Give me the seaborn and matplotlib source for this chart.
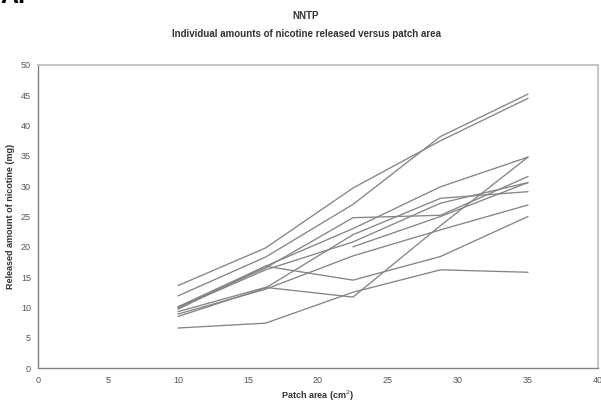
import numpy as np
import pandas as pd
import matplotlib
matplotlib.use("Agg")
import matplotlib.pyplot as plt
import seaborn as sns

# Patch areas (cm^2)
patch_area = [10, 16.25, 22.5, 28.75, 35]

# Individual released amounts of nicotine (mg), one list per subject
s1 = [13.6, 19.8, 29.7, 37.5, 44.5]
s2 = [11.9, 18.3, 27.0, 38.2, 45.2]
s3 = [10.1, 16.8, 23.0, 29.9, 34.8]
s4 = [10.0, 16.5, 24.8, 25.2, 31.6]
s5 = [9.9, 16.2, 20.8, 27.2, 30.6]
s6 = [9.7, 16.8, 14.5, 18.4, 25.0]
s7 = [9.3, 13.3, 11.7, 23.5, 34.8]
s8 = [8.9, 13.0, 18.5, 22.8, 26.9]
s9 = [8.5, 13.2, 22.0, 28.0, 29.1]
s10 = [6.6, 7.4, 12.5, 16.2, 15.8]
s11 = [np.nan, np.nan, 20.0, 25.0, 30.6]

series = [s1, s2, s3, s4, s5, s6, s7, s8, s9, s10, s11]

x_ticks = [0, 5, 10, 15, 20, 25, 30, 35, 40]
y_ticks = [0, 5, 10, 15, 20, 25, 30, 35, 40, 45, 50]

rows = []
for i, s in enumerate(series):
    for xa, v in zip(patch_area, s):
        rows.append({"subject": f"S{i+1}", "area": xa, "amount": v})
df = pd.DataFrame(rows).dropna()

sns.set_style("white")
plt.rcParams['font.family'] = ['Liberation Sans', 'DejaVu Sans']

fig = plt.figure(figsize=(6.01, 4.08), dpi=100)
ax = fig.add_axes([38/601, 1-368/408, (598-38)/601, (368-65)/408])

sns.lineplot(data=df, x="area", y="amount", units="subject", estimator=None,
             color="#858585", linewidth=0.95, ax=ax, legend=False)

ax.set_xlim(0, 40)
ax.set_ylim(0, 50)
ax.set_xticks(x_ticks)
ax.set_yticks(y_ticks)
ax.tick_params(axis='both', which='major', direction='out', length=3, width=0.8,
               color='#808080', labelsize=6.5, labelcolor='#555555')
ax.tick_params(axis='y', pad=2)
ax.tick_params(axis='x', pad=3)

for side in ['left', 'bottom']:
    ax.spines[side].set_color('#808080')
    ax.spines[side].set_linewidth(1.0)
for side in ['top', 'right']:
    ax.spines[side].set_visible(True)
    ax.spines[side].set_color('#c4c4c4')
    ax.spines[side].set_linewidth(1.4)

ax.set_xlabel("Patch area (cm$^{2}$)", fontsize=6.5, fontweight='bold', color='#333333', labelpad=2)
ax.set_ylabel("Released amount of nicotine (mg)", fontsize=6.5, fontweight='bold', color='#333333', labelpad=4)

fig.text(306/601, 1-16/408, "NNTP", ha='center', va='center', fontsize=7, fontweight='bold', color='#333333')
fig.text(306/601, 1-34/408, "Individual amounts of nicotine released versus patch area",
         ha='center', va='center', fontsize=7, fontweight='bold', color='#333333')
fig.text(0.0, 1.01, "A.", ha='left', va='center', fontsize=18, fontweight='bold', color='black')

fig.savefig("out.png", dpi=100, facecolor='white')
